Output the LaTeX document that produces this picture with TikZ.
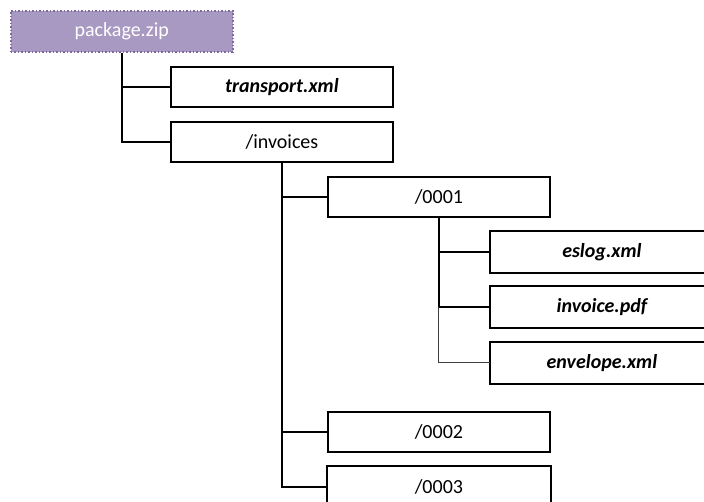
\documentclass[tikz,border=0pt]{standalone}
\usepackage{fontspec}
\setmainfont{Carlito}
\definecolor{pkgfill}{HTML}{A899C2}
\definecolor{pkgline}{HTML}{7E6A9E}
\begin{document}
\begin{tikzpicture}[x=1pt,y=-1pt,
  box/.style={draw=black, line width=1.8pt, fill=white, minimum width=222pt, minimum height=40pt,
    anchor=north west, inner sep=0pt, font=\fontsize{20}{24}\selectfont},
  filebox/.style={box, font=\fontsize{20}{24}\selectfont\bfseries\itshape},
  cutbox/.style={draw=none, fill=none},
  boxline/.style={draw=black, line width=1.8pt},
  pkgbox/.style={draw=pkgline, dotted, line width=1.5pt, fill=pkgfill, text=white,
    minimum width=222pt, minimum height=41pt, anchor=north west, inner sep=0pt,
    font=\fontsize{20}{24}\selectfont},
  conn/.style={draw=black, line width=1.8pt},
  thinconn/.style={draw=black!75, line width=1pt}]
\useasboundingbox (0,0) rectangle (704,501);
\clip (0,0) rectangle (704,501);
\fill[white] (0,0) rectangle (704,501);
\node[pkgbox] (pkg) at (10,10) {package.zip};
\node[filebox] (tr) at (170,66) {transport.xml};
\node[box] (inv) at (170,121) {/invoices};
\node[box] (d1) at (327,176) {/0001};
\node[filebox, cutbox] (es) at (490,231) {eslog.xml};
\node[filebox, cutbox] (pdf) at (490,286) {invoice.pdf};
\node[filebox, cutbox] (env) at (490,342) {envelope.xml};
\node[box] (d2) at (327,411) {/0002};
\node[box, cutbox] (d3) at (327,466) {/0003};
% boxes cut by the picture's edges
\draw[boxline] (es.north west) rectangle ([xshift=60pt]es.south east);
\draw[boxline] (pdf.north west) rectangle ([xshift=60pt]pdf.south east);
\draw[boxline] (env.north west) rectangle ([xshift=60pt]env.south east);
\draw[boxline] (d3.north west) rectangle ([yshift=-40pt]d3.south east);
% connectors
\draw[conn] (pkg.south) |- (inv.west);
\draw[conn] (pkg.south |- tr.west) -- (tr.west);
\draw[conn] (inv.south) |- (d3.west);
\draw[conn] (inv.south |- d1.west) -- (d1.west);
\draw[conn] (inv.south |- d2.west) -- (d2.west);
\draw[conn] (d1.south) |- (pdf.west);
\draw[conn] (d1.south |- es.west) -- (es.west);
\draw[thinconn] (d1.south |- pdf.west) |- (env.west);
\end{tikzpicture}
\end{document}
